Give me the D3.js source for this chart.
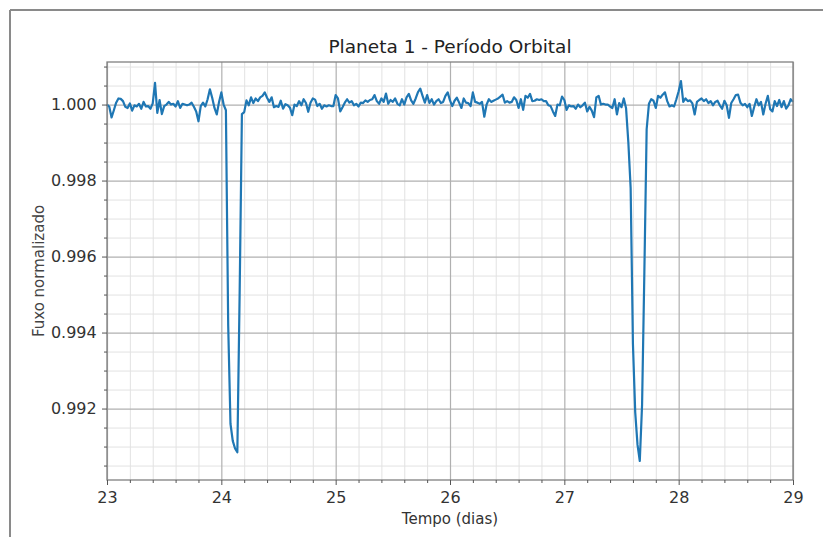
<!DOCTYPE html>
<html>
<head>
<meta charset="utf-8">
<script src="https://d3js.org/d3.v7.min.js"></script>
<style>
  body { margin: 0; background: #fff; }
  svg text { font-family: "DejaVu Sans", sans-serif; }
</style>
</head>
<body>
<div id="chart"></div>
<script>
// chart text
const title = "Planeta 1 - Período Orbital";
const xLabel = "Tempo (dias)";
const yLabel = "Fuxo normalizado";

// tick labels
const xTicks = [23, 24, 25, 26, 27, 28, 29];
const yTicks = [0.992, 0.994, 0.996, 0.998, 1.000];

// sampling of the light curve (days)
const tStart = 23, tStep = 0.02;

// normalized flux, one value per sample
const flux = [
  1.00000, 0.99994, 0.99966, 0.99985, 1.00005, 1.00016, 1.00015, 1.00009, 0.99994, 0.99991,
  1.00003, 0.99984, 0.99998, 0.99995, 1.00002, 0.99989, 1.00007, 0.99995, 0.99996, 0.99989,
  1.00003, 1.00057, 0.99978, 1.00012, 0.99975, 0.99996, 1.00000, 1.00007, 1.00000, 1.00002,
  0.99995, 1.00009, 0.99991, 1.00002, 1.00000, 0.99998, 1.00000, 1.00005, 0.99994, 0.99982,
  0.99956, 0.99996, 1.00005, 0.99995, 1.00014, 1.00040, 1.00018, 0.99991, 0.99974, 1.00007,
  1.00032, 1.00000, 0.99985, 0.99420, 0.99160, 0.99115, 0.99095, 0.99085, 0.99500, 0.99975,
  0.99980, 1.00011, 0.99998, 1.00019, 1.00004, 1.00016, 1.00009, 1.00019, 1.00023, 1.00032,
  1.00018, 1.00007, 1.00019, 0.99993, 0.99996, 0.99994, 1.00010, 0.99989, 1.00001, 0.99998,
  0.99992, 0.99972, 1.00000, 0.99996, 1.00009, 0.99998, 1.00014, 1.00004, 0.99981, 1.00005,
  1.00016, 1.00013, 0.99996, 1.00002, 0.99989, 0.99998, 0.99995, 0.99998, 0.99996, 0.99996,
  1.00025, 1.00016, 0.99982, 0.99993, 1.00005, 1.00014, 1.00005, 1.00009, 0.99998, 1.00002,
  0.99995, 1.00005, 1.00004, 1.00011, 1.00007, 1.00012, 1.00014, 1.00025, 1.00009, 1.00002,
  1.00016, 1.00007, 1.00029, 1.00002, 1.00012, 1.00007, 1.00016, 1.00002, 0.99998, 1.00014,
  1.00000, 1.00019, 1.00028, 1.00011, 1.00002, 1.00016, 1.00033, 1.00042, 1.00023, 1.00005,
  1.00025, 1.00004, 1.00014, 1.00000, 1.00009, 1.00014, 1.00004, 1.00007, 1.00023, 1.00032,
  1.00011, 0.99996, 1.00010, 1.00018, 1.00005, 0.99991, 1.00016, 1.00005, 1.00004, 0.99996,
  1.00032, 1.00007, 1.00005, 1.00002, 1.00007, 0.99968, 1.00000, 1.00014, 1.00007, 1.00010,
  1.00013, 1.00016, 1.00021, 1.00026, 1.00005, 1.00009, 1.00005, 1.00007, 1.00019, 1.00012,
  0.99991, 1.00014, 0.99986, 1.00023, 1.00018, 1.00028, 1.00009, 1.00010, 1.00014, 1.00012,
  1.00014, 1.00009, 1.00009, 0.99998, 0.99996, 0.99982, 0.99970, 1.00000, 0.99998, 1.00021,
  1.00012, 0.99986, 0.99998, 0.99995, 0.99996, 0.99989, 1.00000, 0.99993, 0.99998, 1.00005,
  0.99982, 0.99994, 0.99984, 0.99967, 1.00019, 1.00023, 1.00000, 1.00002, 1.00000, 1.00000,
  0.99995, 0.99991, 1.00014, 0.99974, 1.00004, 0.99993, 1.00016, 0.99990, 0.99900, 0.99780,
  0.99370, 0.99190, 0.99105, 0.99062, 0.99210, 0.99560, 0.99935, 1.00002, 1.00014, 1.00010,
  0.99991, 1.00023, 1.00018, 1.00026, 1.00032, 1.00009, 0.99995, 0.99998, 0.99995, 1.00014,
  1.00035, 1.00062, 1.00007, 1.00016, 1.00009, 1.00011, 1.00003, 0.99974, 1.00007, 1.00012,
  1.00016, 1.00009, 1.00014, 1.00004, 1.00009, 0.99998, 1.00007, 1.00010, 0.99998, 0.99989,
  1.00010, 0.99998, 0.99965, 1.00004, 1.00014, 1.00025, 1.00026, 1.00005, 0.99998, 1.00002,
  0.99993, 1.00002, 0.99970, 0.99993, 1.00014, 0.99998, 1.00007, 0.99974, 1.00002, 1.00023,
  0.99988, 0.99982, 1.00009, 0.99996, 1.00012, 0.99993, 1.00009, 0.99989, 0.99998, 1.00014,
  1.00007
];

const W = 823, H = 537;
const margin = {top: 62, right: 30, bottom: 57, left: 107},
    width = W - margin.left - margin.right,
    height = H - margin.top - margin.bottom;

const svg = d3.select("#chart").append("svg")
    .attr("width", W)
    .attr("height", H);

// outer figure frame (cut off at right and bottom)
svg.append("line").attr("x1", 10).attr("y1", 10).attr("x2", W).attr("y2", 10)
    .attr("stroke", "#8a8a8a").attr("stroke-width", 2);
svg.append("line").attr("x1", 10).attr("y1", 10).attr("x2", 10).attr("y2", H)
    .attr("stroke", "#8a8a8a").attr("stroke-width", 2);

const g = svg.append("g")
    .attr("transform", `translate(${margin.left},${margin.top})`);

// scales (y with matplotlib-like 5% margins)
const x = d3.scaleLinear().domain([23, 29]).range([0, width]);
const [fMin, fMax] = d3.extent(flux);
const pad = (fMax - fMin) * 0.05;
const y = d3.scaleLinear().domain([fMin - pad, fMax + pad]).range([height, 0]);

const xMinor = d3.range(115, 146).map(k => k * 0.2).filter(v => Math.abs(v - Math.round(v)) > 1e-6);
const yMinor = d3.range(1978, 2004).map(k => k * 0.0005)
    .filter(v => v >= y.domain()[0] && v <= y.domain()[1])
    .filter(v => Math.abs(v * 500 - Math.round(v * 500)) > 1e-6);

// minor grid
g.append("g")
    .attr("transform", `translate(0,${height})`)
    .call(d3.axisBottom(x).tickValues(xMinor).tickSize(-height).tickFormat(""))
    .call(a => a.select(".domain").remove())
    .call(a => a.selectAll("line").attr("stroke", "#e2e2e2").attr("stroke-width", 1));
g.append("g")
    .call(d3.axisLeft(y).tickValues(yMinor).tickSize(-width).tickFormat(""))
    .call(a => a.select(".domain").remove())
    .call(a => a.selectAll("line").attr("stroke", "#e2e2e2").attr("stroke-width", 1));

// major grid
g.append("g")
    .attr("transform", `translate(0,${height})`)
    .call(d3.axisBottom(x).tickValues(xTicks).tickSize(-height).tickFormat(""))
    .call(a => a.select(".domain").remove())
    .call(a => a.selectAll("line").attr("stroke", "#b0b0b0").attr("stroke-width", 1.2));
g.append("g")
    .call(d3.axisLeft(y).tickValues(yTicks).tickSize(-width).tickFormat(""))
    .call(a => a.select(".domain").remove())
    .call(a => a.selectAll("line").attr("stroke", "#b0b0b0").attr("stroke-width", 1.2));

// light curve
const line = d3.line()
    .x((d, i) => x(tStart + i * tStep))
    .y(d => y(d));
g.append("path")
    .datum(flux)
    .attr("fill", "none")
    .attr("stroke", "#1f77b4")
    .attr("stroke-width", 2.2)
    .attr("stroke-linejoin", "round")
    .attr("d", line);

// spines
g.append("rect")
    .attr("width", width).attr("height", height)
    .attr("fill", "none").attr("stroke", "#808080").attr("stroke-width", 1.3);

// minor ticks
g.append("g")
    .attr("transform", `translate(0,${height})`)
    .call(d3.axisBottom(x).tickValues(xMinor).tickSize(3).tickFormat(""))
    .call(a => a.select(".domain").remove())
    .call(a => a.selectAll("line").attr("stroke", "#555"));
g.append("g")
    .call(d3.axisLeft(y).tickValues(yMinor).tickSize(3).tickFormat(""))
    .call(a => a.select(".domain").remove())
    .call(a => a.selectAll("line").attr("stroke", "#555"));

// major ticks + labels
g.append("g")
    .attr("transform", `translate(0,${height})`)
    .call(d3.axisBottom(x).tickValues(xTicks).tickSize(5).tickPadding(6.5).tickFormat(d3.format("d")))
    .call(a => a.select(".domain").remove())
    .call(a => a.selectAll("line").attr("stroke", "#555"))
    .call(a => a.selectAll("text").attr("font-size", 16).attr("fill", "#333")
        .style("font-family", "'DejaVu Sans', sans-serif"));
g.append("g")
    .call(d3.axisLeft(y).tickValues(yTicks).tickSize(5).tickPadding(5.3).tickFormat(d3.format(".3f")))
    .call(a => a.select(".domain").remove())
    .call(a => a.selectAll("line").attr("stroke", "#555"))
    .call(a => a.selectAll("text").attr("font-size", 16).attr("fill", "#333")
        .style("font-family", "'DejaVu Sans', sans-serif"));

// title and axis labels
svg.append("text")
    .attr("x", margin.left + width / 2).attr("y", 53)
    .attr("text-anchor", "middle")
    .attr("font-size", 18.5).attr("fill", "#222")
    .text(title);
svg.append("text")
    .attr("x", margin.left + width / 2).attr("y", 523.5)
    .attr("text-anchor", "middle")
    .attr("font-size", 15).attr("fill", "#333")
    .text(xLabel);
svg.append("text")
    .attr("transform", `translate(44,${margin.top + height / 2}) rotate(-90)`)
    .attr("text-anchor", "middle")
    .attr("font-size", 15).attr("fill", "#444")
    .text(yLabel);
</script>
</body>
</html>
